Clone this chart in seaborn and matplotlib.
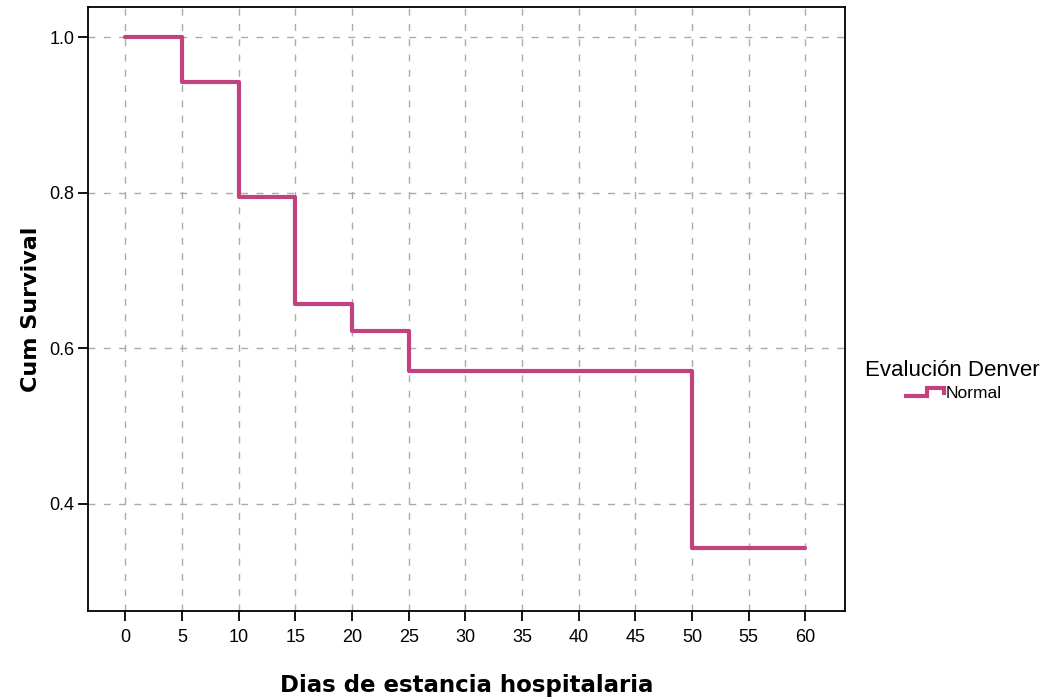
import matplotlib
matplotlib.use("Agg")
import matplotlib.pyplot as plt
from matplotlib.legend_handler import HandlerBase
from matplotlib.lines import Line2D
import seaborn as sns
import pandas as pd

# Kaplan-Meier curve values
dias = [0, 5, 10, 15, 20, 25, 50, 60]
supervivencia = [1.0, 0.943, 0.794, 0.657, 0.622, 0.571, 0.343, 0.343]
grupo = ["Normal"] * len(dias)

color_linea = "#C2427F"

sns.set_style("white")
plt.rcParams['font.family'] = ['Liberation Sans', 'DejaVu Sans']
plt.rcParams['text.color'] = 'black'
plt.rcParams['axes.labelcolor'] = 'black'


class StepHandler(HandlerBase):
    """dibuja el icono escalonado de la leyenda"""
    def create_artists(self, legend, orig_handle, xdescent, ydescent,
                       width, height, fontsize, trans):
        x0, x1 = -xdescent, -xdescent + width
        ym = -ydescent + height / 2
        xm = x0 + width * 0.58
        lo = ym - height * 0.3
        hi = ym + height * 0.3
        xs = [x0, xm, xm, x1, x1]
        ys = [lo, lo, hi, hi, lo + height * 0.05]
        line = Line2D(xs, ys, color=orig_handle.get_color(),
                      lw=orig_handle.get_linewidth(), transform=trans,
                      solid_joinstyle='miter', solid_capstyle='butt')
        return [line]


df = pd.DataFrame({"dias": dias, "surv": supervivencia, "grupo": grupo})

fig = plt.figure(figsize=(10.53, 6.98), dpi=100)
ax = fig.add_axes([0.0836, 0.1246, 0.7189, 0.8654])

sns.lineplot(data=df, x="dias", y="surv", hue="grupo",
             palette=[color_linea], drawstyle="steps-post",
             linewidth=3.0, ax=ax, legend=False, estimator=None)

ax.set_xlim(-3.3, 63.5)
ax.set_ylim(0.262, 1.039)
ax.set_xticks(range(0, 61, 5))
ax.set_yticks([0.4, 0.6, 0.8, 1.0])
ax.set_yticklabels(["0.4", "0.6", "0.8", "1.0"])

ax.grid(True, linestyle=(0, (5, 6)), color="#ababab", linewidth=1.0)
ax.set_axisbelow(True)
for s in ax.spines.values():
    s.set_color("black")
    s.set_linewidth(1.3)

ax.tick_params(axis="both", direction="out", length=7, width=1.3,
               labelsize=13, colors="black", bottom=True, left=True)
ax.tick_params(axis="x", pad=6)
ax.tick_params(axis="y", pad=3)

ax.set_xlabel("Dias de estancia hospitalaria", fontsize=16.5,
              fontweight="bold", labelpad=20, family="DejaVu Sans")
ax.set_ylabel("Cum Survival", fontsize=16, fontweight="bold",
              labelpad=6, family="DejaVu Sans")

handle = Line2D([], [], color=color_linea, linewidth=3.0)
leg = fig.legend([handle], ["Normal"], title="Evalución Denver",
                 loc="center left", bbox_to_anchor=(0.807, 0.455),
                 frameon=False, fontsize=12.5, title_fontsize=16,
                 handler_map={Line2D: StepHandler()},
                 handlelength=2.3, handletextpad=0.1, labelspacing=0.3)
leg._legend_box.align = "center"

fig.savefig("out.png", dpi=100)
